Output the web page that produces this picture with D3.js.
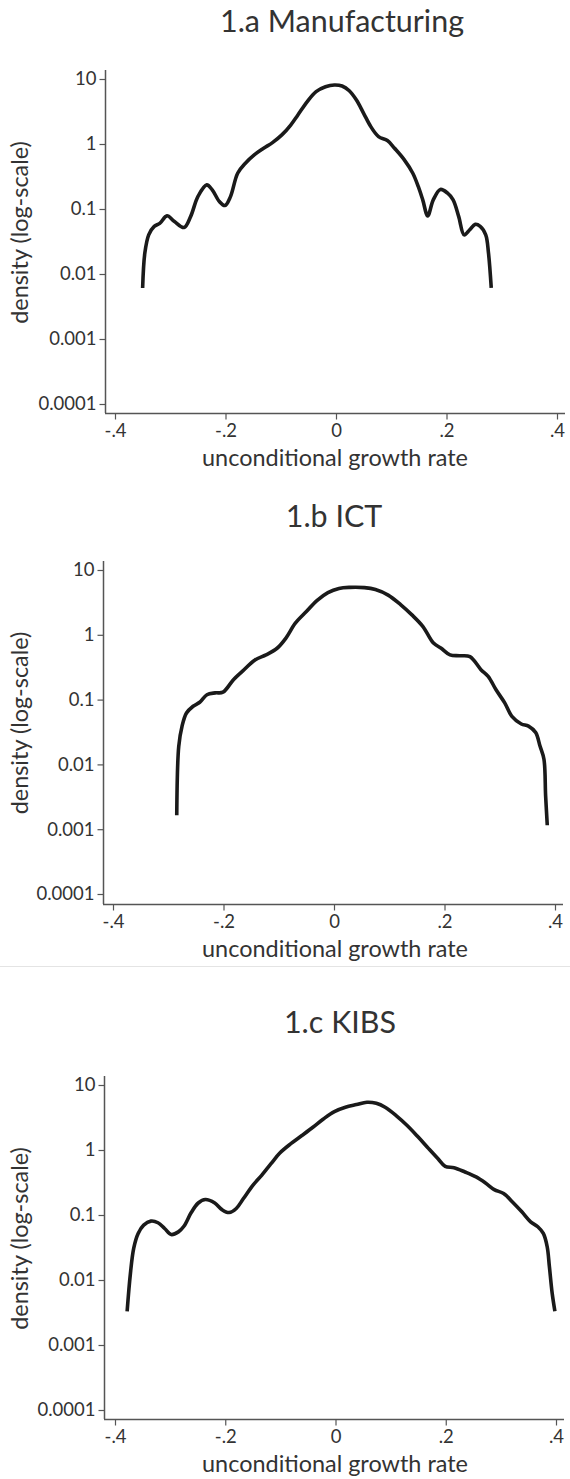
<!DOCTYPE html>
<html><head><meta charset="utf-8">
<script src="https://cdn.jsdelivr.net/npm/d3@7"></script>
<style>body{margin:0;background:#fff} svg{display:block}</style>
</head><body>
<svg id="chart" width="570" height="1479"></svg>
<script>
const panelTitles = ["1.a Manufacturing", "1.b ICT", "1.c KIBS"];
const xTickValues = [-0.4, -0.2, 0, 0.2, 0.4];
const xTickLabels = ["-.4", "-.2", "0", ".2", ".4"];
const yTickValues = [10, 1, 0.1, 0.01, 0.001, 0.0001];
const yTickLabels = ["10", "1", "0.1", "0.01", "0.001", "0.0001"];
const xAxisTitle = "unconditional growth rate";
const yAxisTitle = "density (log-scale)";

const manufacturingGrowth = [-0.350,-0.346,-0.339,-0.329,-0.319,-0.306,-0.293,-0.275,-0.263,-0.250,-0.234,-0.224,-0.211,-0.201,-0.191,-0.178,-0.164,-0.148,-0.131,-0.115,-0.098,-0.082,-0.069,-0.052,-0.036,-0.019,-0.003,0.011,0.024,0.037,0.050,0.063,0.077,0.093,0.106,0.123,0.139,0.149,0.157,0.166,0.176,0.189,0.202,0.212,0.222,0.232,0.242,0.252,0.261,0.271,0.276,0.281];
const manufacturingDensity = [0.0061,0.021,0.040,0.054,0.060,0.0785,0.065,0.052,0.077,0.155,0.235,0.197,0.130,0.113,0.155,0.355,0.506,0.68,0.86,1.05,1.38,1.96,2.8,4.5,6.4,7.6,8.1,7.8,6.6,4.75,2.97,1.85,1.3,1.13,0.86,0.58,0.355,0.22,0.138,0.0785,0.138,0.20,0.175,0.138,0.077,0.040,0.048,0.058,0.054,0.040,0.021,0.0061];

const ictGrowth = [-0.2846,-0.281,-0.275,-0.267,-0.255,-0.243,-0.230,-0.215,-0.201,-0.182,-0.166,-0.143,-0.123,-0.103,-0.087,-0.070,-0.050,-0.031,-0.011,0.009,0.029,0.055,0.075,0.098,0.121,0.141,0.161,0.180,0.194,0.210,0.227,0.246,0.266,0.279,0.293,0.309,0.322,0.339,0.352,0.365,0.373,0.380,0.383,0.386];
const ictDensity = [0.00164,0.019,0.039,0.062,0.079,0.091,0.119,0.127,0.13,0.203,0.273,0.41,0.49,0.62,0.89,1.51,2.28,3.37,4.48,5.2,5.4,5.35,5.0,4.1,2.9,2.03,1.34,0.745,0.62,0.49,0.475,0.46,0.29,0.229,0.143,0.089,0.055,0.042,0.039,0.031,0.019,0.012,0.0033,0.00115];

const kibsGrowth = [-0.378,-0.372,-0.366,-0.358,-0.348,-0.335,-0.322,-0.310,-0.298,-0.285,-0.275,-0.262,-0.249,-0.236,-0.219,-0.206,-0.193,-0.180,-0.167,-0.150,-0.134,-0.117,-0.101,-0.081,-0.061,-0.041,-0.022,-0.002,0.018,0.038,0.057,0.074,0.090,0.110,0.130,0.150,0.169,0.186,0.199,0.215,0.235,0.255,0.272,0.288,0.305,0.321,0.338,0.354,0.367,0.377,0.384,0.388,0.393,0.398];
const kibsDensity = [0.0033,0.0127,0.031,0.052,0.0698,0.0805,0.076,0.062,0.050,0.055,0.067,0.108,0.153,0.173,0.153,0.121,0.109,0.126,0.179,0.286,0.408,0.615,0.897,1.25,1.67,2.24,3.0,3.9,4.55,5.0,5.43,5.23,4.55,3.39,2.38,1.58,1.05,0.734,0.56,0.534,0.459,0.385,0.311,0.246,0.214,0.159,0.112,0.0785,0.066,0.052,0.0325,0.0161,0.0063,0.0033];

const seriesGrowth = [manufacturingGrowth, ictGrowth, kibsGrowth];
const seriesDensity = [manufacturingDensity, ictDensity, kibsDensity];

const layouts = [
  {titleX: 342, titleY: 32,   left: 105, x0: 115, x1: 557, yTop: 79,   yBot: 404,  axisY: 413},
  {titleX: 334, titleY: 527,  left: 103, x0: 113, x1: 555, yTop: 570,  yBot: 894,  axisY: 904},
  {titleX: 340, titleY: 1033, left: 104, x0: 115, x1: 556, yTop: 1085, yBot: 1410, axisY: 1419}
];

const FONT = "Lato, 'Open Sans', sans-serif";
const TEXT = "#333";
const AXIS = "#555";
const svg = d3.select("#chart");

function fitSize(str, target) {
  const t = svg.append("text").attr("font-family", FONT).attr("font-size", 100).text(str);
  const w = t.node().getComputedTextLength();
  t.remove();
  return 100 * target / w;
}
const titleSize = fitSize(panelTitles[0], 244);
const labelSize = fitSize(xAxisTitle, 266);
const tickSize = fitSize("0.0001", 58);

// faint separator between panel 2 and 3
svg.append("line").attr("x1", 0).attr("x2", 570).attr("y1", 966.5).attr("y2", 966.5)
  .attr("stroke", "#e4e4e4").attr("stroke-width", 1);

layouts.forEach((L, i) => {
  const g = svg.append("g");
  const x = d3.scaleLinear().domain([-0.4, 0.4]).range([L.x0, L.x1]);
  const y = d3.scaleLog().domain([0.0001, 10]).range([L.yBot, L.yTop]);

  g.append("text").attr("x", L.titleX).attr("y", L.titleY).attr("text-anchor", "middle")
    .attr("font-family", FONT).attr("font-size", titleSize).attr("fill", TEXT).text(panelTitles[i]);

  // axis lines
  g.append("line").attr("x1", L.left + 0.5).attr("x2", L.left + 0.5)
    .attr("y1", L.yTop - 9).attr("y2", L.axisY).attr("stroke", AXIS).attr("stroke-width", 1.5);
  g.append("line").attr("x1", L.left).attr("x2", L.x1 + 8)
    .attr("y1", L.axisY + 0.5).attr("y2", L.axisY + 0.5).attr("stroke", AXIS).attr("stroke-width", 1.5);

  const yAxis = d3.axisLeft(y).tickValues(yTickValues)
    .tickFormat((d, k) => yTickLabels[k]).tickSize(6).tickPadding(3).tickSizeOuter(0);
  const ya = g.append("g").attr("transform", `translate(${L.left + 0.5},0)`).call(yAxis);
  ya.select(".domain").remove();
  ya.selectAll("line").attr("stroke", AXIS).attr("stroke-width", 1.2);
  ya.selectAll("text").attr("font-family", FONT).attr("font-size", tickSize).attr("fill", TEXT);

  const xAxis = d3.axisBottom(x).tickValues(xTickValues)
    .tickFormat((d, k) => xTickLabels[k]).tickSize(6).tickPadding(4).tickSizeOuter(0);
  const xa = g.append("g").attr("transform", `translate(0,${L.axisY + 0.5})`).call(xAxis);
  xa.select(".domain").remove();
  xa.selectAll("line").attr("stroke", AXIS).attr("stroke-width", 1.2);
  xa.selectAll("text").attr("font-family", FONT).attr("font-size", tickSize).attr("fill", TEXT);

  g.append("text").attr("x", 335).attr("y", L.axisY + 53).attr("text-anchor", "middle")
    .attr("font-family", FONT).attr("font-size", labelSize).attr("fill", TEXT).text(xAxisTitle);

  const cy = (L.yTop + L.yBot) / 2 - 9;
  g.append("text").attr("transform", `translate(28,${cy}) rotate(-90)`).attr("text-anchor", "middle")
    .attr("font-family", FONT).attr("font-size", labelSize).attr("fill", TEXT).text(yAxisTitle);

  const pts = seriesGrowth[i].map((v, k) => [v, seriesDensity[i][k]]);
  const line = d3.line().x(d => x(d[0])).y(d => y(d[1])).curve(d3.curveCatmullRom.alpha(0.5));
  g.append("path").datum(pts).attr("d", line).attr("fill", "none")
    .attr("stroke", "#1a1a1a").attr("stroke-width", 3.6)
    .attr("stroke-linejoin", "round").attr("stroke-linecap", "butt");
});
</script>
</body></html>
